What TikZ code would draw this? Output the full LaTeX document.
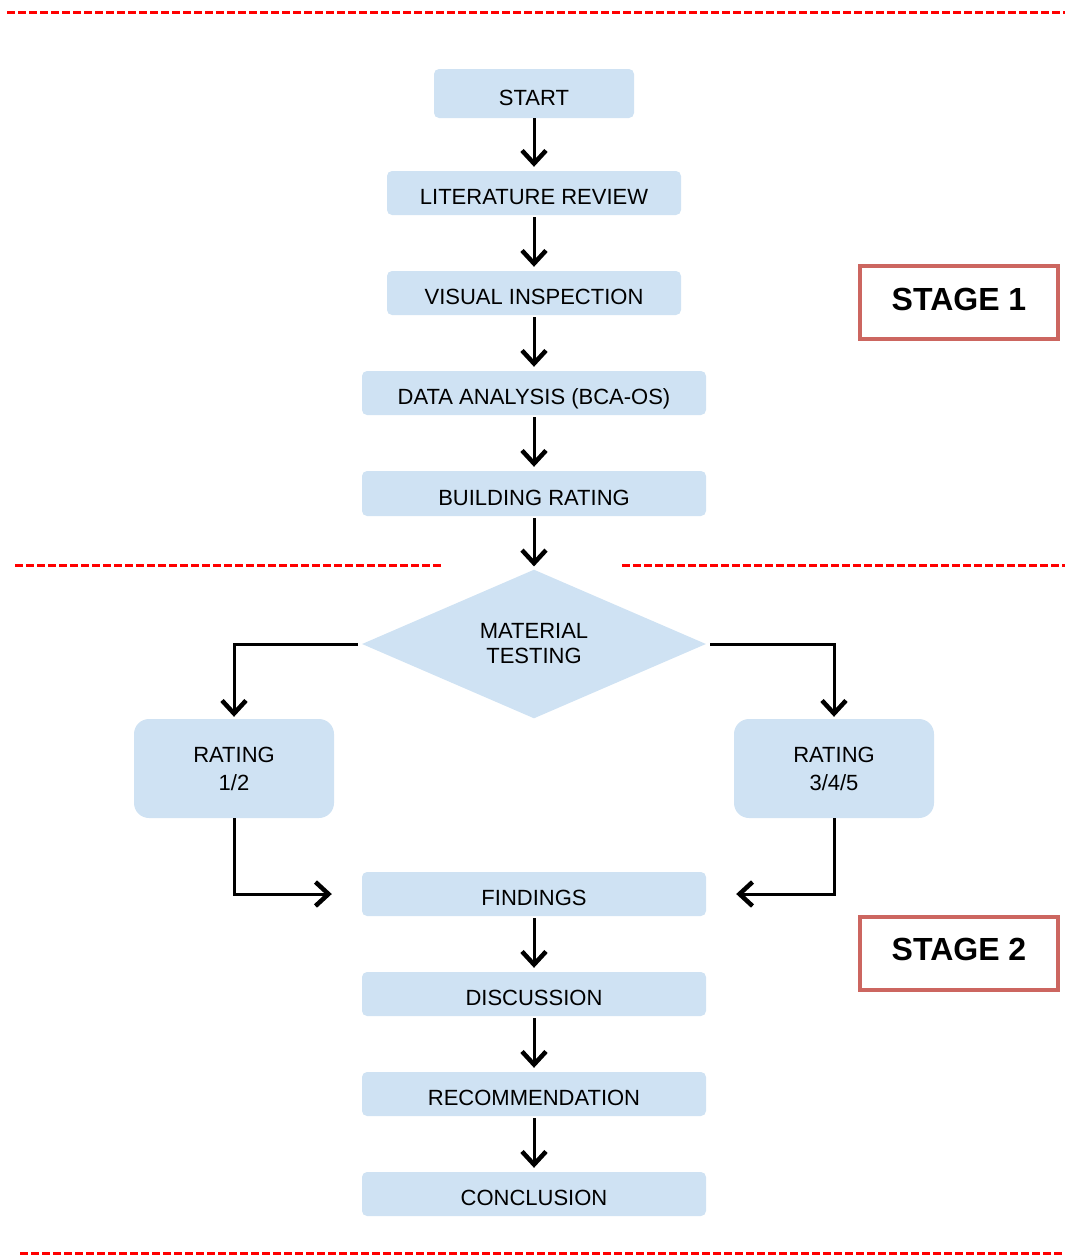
\documentclass[tikz,border=0pt]{standalone}
\usepackage{fontspec}
\setmainfont{Liberation Sans}
\usetikzlibrary{shapes.geometric,arrows.meta}
\definecolor{boxblue}{RGB}{207,226,243}
\definecolor{stagered}{RGB}{204,102,96}
\begin{document}
\begin{tikzpicture}[x=1pt,y=-1pt,
  stepbox/.style={fill=boxblue,rounded corners=5pt,inner sep=0pt,text height=23pt,text depth=0pt,font=\fontsize{22}{26}\selectfont,text=black},
  ratebox/.style={fill=boxblue,rounded corners=15pt,inner sep=0pt,minimum width=200pt,minimum height=99pt,align=center,font=\fontsize{22}{28}\selectfont,text=black},
  stagebox/.style={draw=stagered,line width=4pt,fill=white,inner sep=0pt,minimum width=198pt,minimum height=73pt,text height=23pt,text depth=8pt,font=\fontsize{32}{36}\selectfont\bfseries},
  arr/.style={line width=3pt,-{Straight Barb[length=13pt,width=24pt,line width=4.5pt]}},
  sep/.style={red,line width=3pt,dash pattern=on 8pt off 3pt}]
\useasboundingbox (0,0) rectangle (1065,1256);
% separators
\draw[sep] (7,12) -- (1065,12);
\draw[sep] (15,565) -- (443,565);
\draw[sep] (622,565) -- (1065,565);
\draw[sep] (20,1253) -- (1065,1253);
% stage 1 nodes
\node[stepbox,minimum width=200pt,minimum height=49pt] (start) at (534,93.5) {START};
\node[stepbox,minimum width=294pt,minimum height=44pt] (lit) at (534,193) {LITERATURE REVIEW};
\node[stepbox,minimum width=294pt,minimum height=44pt] (vis) at (534,293) {VISUAL INSPECTION};
\node[stepbox,minimum width=344pt,minimum height=44pt] (data) at (534,393) {DATA ANALYSIS (BCA-OS)};
\node[stepbox,minimum width=344pt,minimum height=45pt] (build) at (534,493.5) {BUILDING RATING};
% decision
\node[diamond,fill=boxblue,inner sep=0pt,minimum width=344pt,minimum height=146pt,align=center,font=\fontsize{22}{25}\selectfont,text=black] (mt) at (534,644) {MATERIAL\\TESTING};
\node[ratebox] (r12) at (234,768.5) {RATING\\1/2};
\node[ratebox] (r345) at (834,768.5) {RATING\\3/4/5};
% stage 2 nodes
\node[stepbox,minimum width=344pt,minimum height=44pt] (find) at (534,894) {FINDINGS};
\node[stepbox,minimum width=344pt,minimum height=44pt] (disc) at (534,994) {DISCUSSION};
\node[stepbox,minimum width=344pt,minimum height=44pt] (rec) at (534,1094) {RECOMMENDATION};
\node[stepbox,minimum width=344pt,minimum height=44pt] (conc) at (534,1194) {CONCLUSION};
% stage labels
\node[stagebox] (s1) at (959,302.5) {STAGE 1};
\node[stagebox] (s2) at (959,953) {STAGE 2};
% connectors
\draw[arr,shorten >=4pt] (start) -- (lit);
\draw[arr,shorten >=4pt,shorten <=2pt] (lit) -- (vis);
\draw[arr,shorten >=4pt,shorten <=2pt] (vis) -- (data);
\draw[arr,shorten >=4pt,shorten <=2pt] (data) -- (build);
\draw[arr,shorten >=3pt,shorten <=2pt] (build) -- (mt);
\draw[arr,shorten >=2pt] ([xshift=-4pt]mt.west) -| (r12.north);
\draw[arr,shorten >=2pt] ([xshift=4pt]mt.east) -| (r345.north);
\draw[arr,shorten >=30pt] (r12.south) |- (find.west);
\draw[arr,shorten >=30pt] (r345.south) |- (find.east);
\draw[arr,shorten >=4pt,shorten <=2pt] (find) -- (disc);
\draw[arr,shorten >=4pt,shorten <=2pt] (disc) -- (rec);
\draw[arr,shorten >=4pt,shorten <=2pt] (rec) -- (conc);
\end{tikzpicture}
\end{document}
